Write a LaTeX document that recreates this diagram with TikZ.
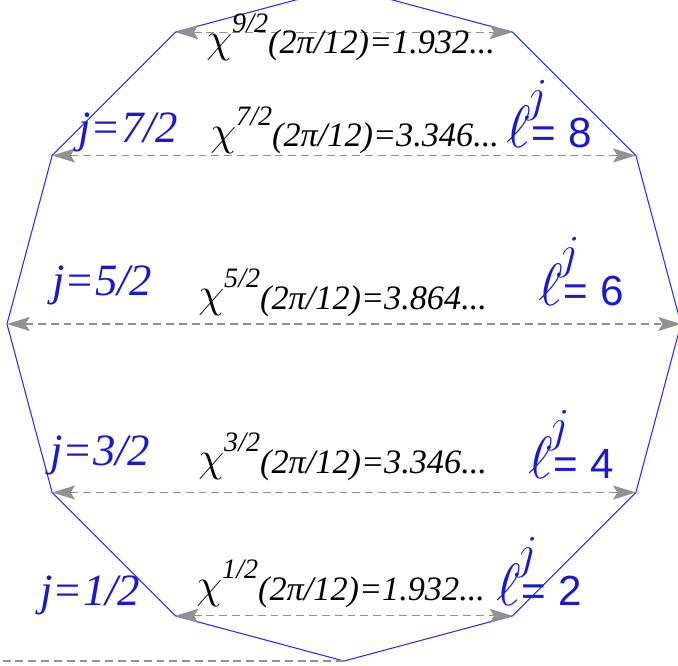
\RequirePackage{fix-cm}
\documentclass[tikz,border=0pt]{standalone}
\usepackage{fontspec}
\setmainfont{Liberation Serif}
\setsansfont{Liberation Sans}
\usetikzlibrary{arrows.meta,calc}

\newcommand{\chilabel}[2]{%
  \raisebox{1pt}{\fontsize{24}{24}\selectfont$\chi$}%
  \raisebox{12pt}{\fontsize{16}{16}\selectfont\itshape #1}%
  {\itshape (2π/12)=#2...}}
\newcommand{\elllabel}[1]{%
  {\fontsize{34}{34}\selectfont$\ell$}\kern-3pt%
  \raisebox{21pt}{\fontsize{27}{27}\selectfont$j$}\kern-9pt%
  {\sffamily = #1}}

\begin{document}
\begin{tikzpicture}[x=0.02cm,y=-0.02cm,
    rim/.style={rimblue,line width=0.6pt,line join=miter},
    chord/.style={chordgray,line width=0.6pt,dash pattern=on 4.5pt off 2.8pt,
      {Stealth[length=13pt,width=8pt,inset=2.5pt]}-{Stealth[length=13pt,width=8pt,inset=2.5pt]}},
    guide/.style={chordgray,line width=0.6pt,dash pattern=on 4.5pt off 2.8pt},
    jlabel/.style={anchor=base west,inner sep=0pt,text=jblue,
      font=\fontsize{25.5}{25.5}\selectfont\itshape},
    chitext/.style={anchor=base west,inner sep=0pt,font=\fontsize{19.5}{19.5}\selectfont},
    elltext/.style={anchor=base west,inner sep=0pt,text=jblue,
      font=\fontsize{24}{24}\selectfont}]
    \definecolor{jblue}{RGB}{25,25,205}
    \definecolor{rimblue}{RGB}{40,40,255}
    \definecolor{chordgray}{RGB}{145,145,145}

    \useasboundingbox (0,0) rectangle (678,665);

    % the dodecagon
    \coordinate (c) at (344,324);
    \foreach \a in {0,30,...,330}
      \coordinate (v\a) at ($(c)+(\a:337)$);
    \draw[rim] (v0) \foreach \a in {30,60,...,330} {-- (v\a)} -- cycle;

    % chords
    \draw[chord] (v240) -- (v300);
    \draw[chord] (v210) -- (v330);
    \draw[chord] (v180) -- (v0);
    \draw[chord] (v150) -- (v30);
    \draw[chord] (v120) -- (v60);
    \coordinate (leftend) at (0,661);
    \draw[guide] (v90) -- (leftend);

    % labels
    \node[chitext] (chi9) at (206,54) {\chilabel{9/2}{1.932}};
    \node[jlabel] (j7) at (78,143) {j=7/2};
    \node[chitext] (chi7) at (210,147) {\chilabel{7/2}{3.346}};
    \node[elltext] (l8) at (506,148) {\elllabel{8}};

    \node[jlabel] (j5) at (52,295) {j=5/2};
    \node[chitext] (chi5) at (198,309) {\chilabel{5/2}{3.864}};
    \node[elltext] (l6) at (538,305) {\elllabel{6}};

    \node[jlabel] (j3) at (50,465) {j=3/2};
    \node[chitext] (chi3) at (198,473) {\chilabel{3/2}{3.346}};
    \node[elltext] (l4) at (528,478) {\elllabel{4}};

    \node[jlabel] (j1) at (40,605) {j=1/2};
    \node[chitext] (chi1) at (196,600) {\chilabel{1/2}{1.932}};
    \node[elltext] (l2) at (496,605) {\elllabel{2}};
\end{tikzpicture}
\end{document}
